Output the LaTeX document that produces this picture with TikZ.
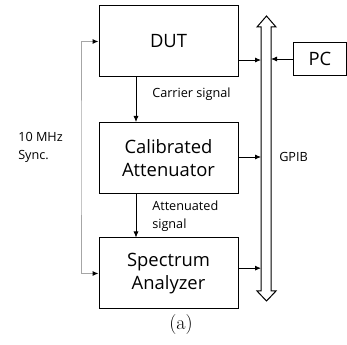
\documentclass[tikz,border=0pt]{standalone}
\usepackage{fontspec}
\newfontfamily\blockfont{Open Sans}
\usetikzlibrary{arrows.meta}

\tikzset{
  block/.style={draw, line width=0.75pt, minimum width=104.25pt, minimum height=53.25pt,
    inner sep=0pt, align=center, font=\blockfont\fontsize{13.8}{17}\selectfont},
  sig/.style={line width=0.6pt, -{Latex[length=4.5pt,width=3.8pt]}},
  sync/.style={line width=0.75pt, gray!70, {Latex[black,length=4.5pt,width=3.8pt]}-{Latex[black,length=4.5pt,width=3.8pt]}},
  lbl/.style={anchor=west, align=left, inner sep=0pt, font=\blockfont\fontsize{9.5}{13.5}\selectfont},
}

\begin{document}
\begin{tikzpicture}[x=0.75pt,y=-0.75pt]
  \useasboundingbox (0,0) rectangle (347,345);
  % blocks
  \node[block] (dut) at (168.5,41.5) {DUT};
  \node[block] (att) at (168.5,158) {Calibrated\\Attenuator};
  \node[block] (sa) at (168.5,273.5) {Spectrum\\Analyzer};
  \node[block, minimum width=39.75pt, minimum height=24.75pt] (pc) at (320,59) {PC};
  % GPIB bus
  \draw[line width=0.75pt] (266.5,16) -- (276,27) -- (271,27) -- (271,291) -- (276,291)
    -- (266.5,301) -- (257,291) -- (261,291) -- (261,27) -- (257,27) -- cycle;
  \coordinate (busL) at (261,0);
  \coordinate (busR) at (271,0);
  \coordinate (tap) at (136,0);
  \coordinate (syncx) at (81,158);
  % connections
  \draw[sig] ([yshift=-13.9pt]dut.east) -- ([yshift=-13.9pt]dut.east -| busL);
  \draw[sig] (pc.west) -- (pc.west -| busR);
  \draw[sig] ([yshift=0.75pt]att.east) -- ([yshift=0.75pt]att.east -| busL);
  \draw[sig] ([yshift=4pt]sa.east) -- ([yshift=4pt]sa.east -| busL);
  \draw[sig] (dut.south -| tap) -- (att.north -| tap);
  \draw[sig] (att.south -| tap) -- (sa.north -| tap);
  \draw[sync] (dut.west) -| (syncx) |- (sa.west);
  % labels
  \node[lbl] (carrier) at (152,94) {Carrier signal};
  \node[lbl] (atten) at (152,216) {Attenuated\\signal};
  \node[lbl] (ref) at (18,147) {10 MHz\\Sync.};
  \node[lbl] (gpib) at (279,157) {GPIB};
  \node[font=\fontsize{15}{17}\selectfont] (cap) at (181,325) {(a)};
\end{tikzpicture}
\end{document}
